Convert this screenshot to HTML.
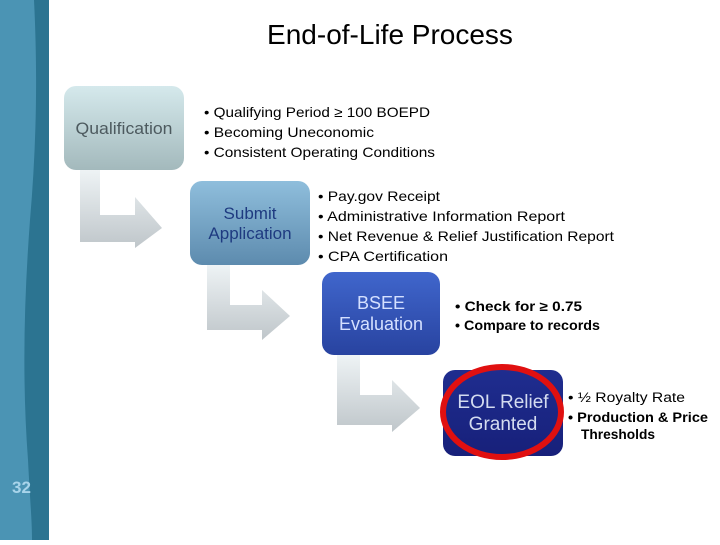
<!DOCTYPE html>
<html><head><meta charset="utf-8"><style>
body{margin:0;width:720px;height:540px;overflow:hidden;background:#fff;font-family:"Liberation Sans",sans-serif}
</style></head><body>
<svg width="720" height="540" xmlns="http://www.w3.org/2000/svg">
<defs>
<linearGradient id="g1" x1="0" y1="0" x2="0" y2="1"><stop offset="0" stop-color="#d5e9ec"/><stop offset="1" stop-color="#a3b9bc"/></linearGradient>
<linearGradient id="g2" x1="0" y1="0" x2="0" y2="1"><stop offset="0" stop-color="#8fbedc"/><stop offset="1" stop-color="#5d8bae"/></linearGradient>
<linearGradient id="g3" x1="0" y1="0" x2="0" y2="1"><stop offset="0" stop-color="#4066cc"/><stop offset="1" stop-color="#2843a0"/></linearGradient>
<linearGradient id="g4" x1="0" y1="0" x2="0" y2="1"><stop offset="0" stop-color="#1f2d8f"/><stop offset="1" stop-color="#17207a"/></linearGradient>
<linearGradient id="ga" x1="0" y1="0" x2="0" y2="1"><stop offset="0" stop-color="#eef3f5"/><stop offset="1" stop-color="#bfc6ca"/></linearGradient>
</defs>
<rect x="0" y="0" width="49" height="540" fill="#2c7491"/>
<path d="M0 0 H34 C38 80 36 150 30 220 C24 300 22 380 28 460 C30 500 32 520 32 540 H0 Z" fill="#4b94b4"/>
<text x="12" y="493" font-size="17" font-weight="bold" fill="#a8d4ea">32</text>
<text x="390" y="44" font-size="28" text-anchor="middle" fill="#000">End-of-Life Process</text>

<path d="M80 170 H100 V215 H135 V197 L162 228 L135 248 V242 H80 Z" fill="url(#ga)"/>
<path d="M207 265 H230 V305 H262 V290 L290 316 L262 340 V330 H207 Z" fill="url(#ga)"/>
<path d="M337 355 H360 V395 H392 V380 L420 408 L392 432 V425 H337 Z" fill="url(#ga)"/>

<rect x="64" y="86" width="120" height="84" rx="12" fill="url(#g1)"/>
<text x="124" y="134" font-size="17" text-anchor="middle" fill="#4d5a5f" textLength="97" lengthAdjust="spacingAndGlyphs">Qualification</text>
<rect x="190" y="181" width="120" height="84" rx="12" fill="url(#g2)"/>
<text x="250" y="219" font-size="17" text-anchor="middle" fill="#1e3a80">Submit</text>
<text x="250" y="239" font-size="17" text-anchor="middle" fill="#1e3a80">Application</text>
<rect x="322" y="272" width="118" height="83" rx="12" fill="url(#g3)"/>
<text x="381" y="309" font-size="18" text-anchor="middle" fill="#d4e0ff">BSEE</text>
<text x="381" y="330" font-size="18" text-anchor="middle" fill="#d4e0ff">Evaluation</text>
<rect x="443" y="370" width="120" height="86" rx="12" fill="url(#g4)"/>
<text x="503" y="408" font-size="19" text-anchor="middle" fill="#d4dcf0">EOL Relief</text>
<text x="503" y="430" font-size="19" text-anchor="middle" fill="#d4dcf0">Granted</text>
<ellipse cx="502" cy="412" rx="59" ry="45" fill="none" stroke="#e01010" stroke-width="6"/>

<g font-size="14" fill="#000" lengthAdjust="spacingAndGlyphs">
<text x="204" y="117" textLength="226" lengthAdjust="spacingAndGlyphs">•  Qualifying Period ≥ 100 BOEPD</text>
<text x="204" y="137" textLength="170" lengthAdjust="spacingAndGlyphs">•  Becoming Uneconomic</text>
<text x="204" y="157" textLength="231" lengthAdjust="spacingAndGlyphs">•  Consistent Operating Conditions</text>
<text x="318" y="201" textLength="122" lengthAdjust="spacingAndGlyphs">•  Pay.gov Receipt</text>
<text x="318" y="221" textLength="247" lengthAdjust="spacingAndGlyphs">•  Administrative Information Report</text>
<text x="318" y="241" textLength="296" lengthAdjust="spacingAndGlyphs">•  Net Revenue &amp; Relief Justification Report</text>
<text x="318" y="261" textLength="130" lengthAdjust="spacingAndGlyphs">•  CPA Certification</text>
</g>
<g font-size="13.5" font-weight="bold" fill="#000">
<text x="455" y="311" textLength="127" lengthAdjust="spacingAndGlyphs">• Check for ≥ 0.75</text>
<text x="455" y="330" textLength="145" lengthAdjust="spacingAndGlyphs">• Compare to records</text>
<text x="568" y="402" font-weight="normal" textLength="117" lengthAdjust="spacingAndGlyphs">• ½ Royalty Rate</text>
<text x="568" y="422" textLength="140" lengthAdjust="spacingAndGlyphs">• Production &amp; Price</text>
<text x="581" y="439" textLength="74" lengthAdjust="spacingAndGlyphs">Thresholds</text>
</g>
</svg>
</body></html>
